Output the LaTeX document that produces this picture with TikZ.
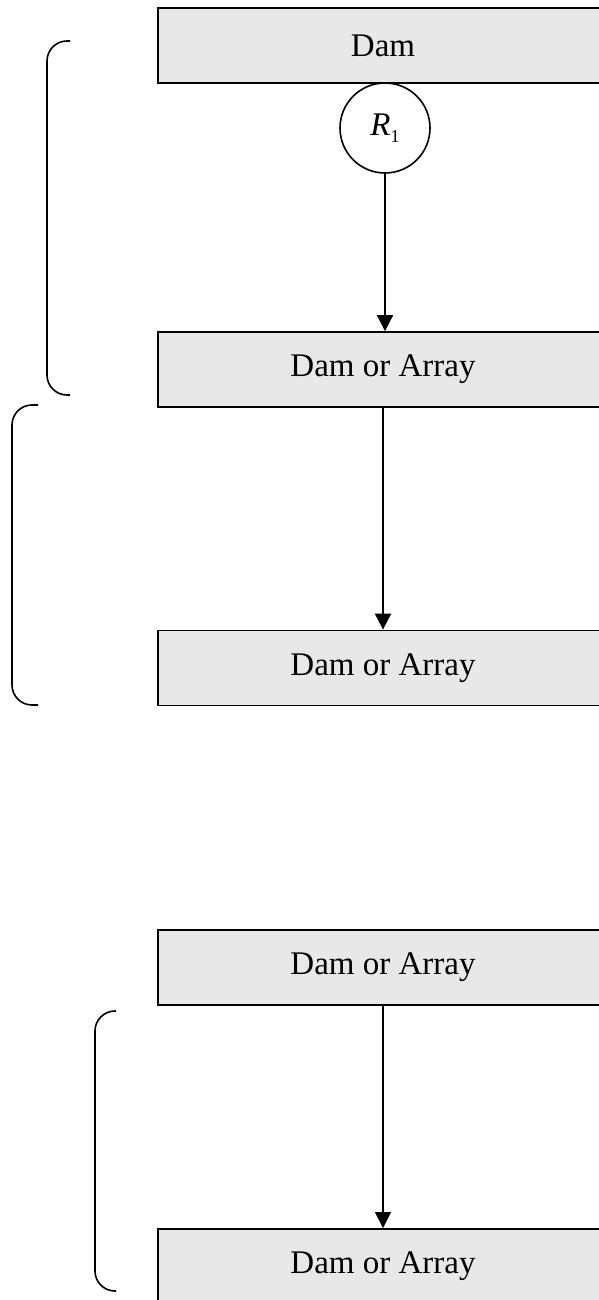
\documentclass[tikz,border=0pt]{standalone}
\usepackage{fontspec}
\setmainfont{Liberation Serif}
\usetikzlibrary{arrows.meta}
\begin{document}
\begin{tikzpicture}[x=0.5pt, y=-0.5pt,
	        damnode/.style={draw, line width=0.9pt, fill=black!9, inner sep=0pt, minimum width=225pt, minimum height=37.5pt, font=\fontsize{16.5}{18}\selectfont},
	        relnode/.style={draw, circle, line width=0.8pt, fill=white, inner sep=0pt, minimum size=45pt, font=\fontsize{16.5}{18}\selectfont},
	        flow/.style={black, line width=1pt, -{Triangle[width=8pt, length=8pt]}},
	        bracket/.style={black, line width=0.8pt, rounded corners=10pt}]
	        \useasboundingbox (0, 0) rectangle (599, 1300);
	        \node [damnode] at (383, 45.5) (dam) {Dam};
	        \node [relnode] at (385, 128) (r1) {\textit{R}\raisebox{-0.45ex}{\fontsize{9}{9}\selectfont 1}};
	        \node [damnode] at (383, 369.5) (da1) {Dam or Array};
	        \node [damnode] at (383, 668) (da2) {Dam or Array};
	        \node [damnode] at (383, 967.5) (da3) {Dam or Array};
	        \node [damnode] at (383, 1266.5) (da4) {Dam or Array};
	        
	        \draw [flow] (r1) -- (r1 |- da1.north);
	        \draw [flow] (da1) -- (da2);
	        \draw [flow, line width=0.6pt] (da3) -- (da4);
	        
	        \draw [bracket] (70, 41) -- (47, 41) -- (47, 395) -- (70, 395);
	        \draw [bracket] (38, 405) -- (12, 405) -- (12, 705) -- (38, 705);
	        \draw [bracket] (116, 1011) -- (95, 1011) -- (95, 1291) -- (116, 1291);
        \end{tikzpicture}
\end{document}
